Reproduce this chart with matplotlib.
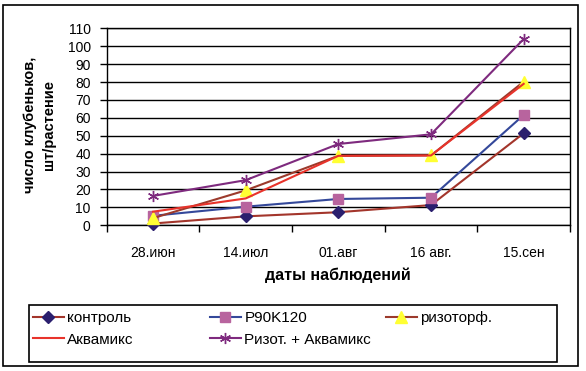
import matplotlib
matplotlib.use("Agg")
import matplotlib.pyplot as plt
from matplotlib.patches import Rectangle

plt.rcParams['font.family'] = ['Liberation Sans', 'DejaVu Sans']

categories = ["28.июн", "14.июл", "01.авг", "16 авг.", "15.сен"]
kontrol = [1, 5, 7.3, 11.3, 51.4]
p90k120 = [5.3, 10.4, 14.7, 15.4, 61.6]
rizotorf = [4, 19.5, 38.8, 39, 80.2]
akvamiks = [7.6, 15, 38.8, 39, 79]
rizot_akv = [16.4, 25.2, 45.4, 50.8, 104]
y_ticks = list(range(0, 111, 10))

W, H = 586, 371
fig = plt.figure(figsize=(W / 100, H / 100), dpi=100)

def fx(px):
    return px / W

def fy(py):
    return 1 - py / H

left, right, top, bottom = 106.7, 570, 28.3, 225.3
ax = fig.add_axes([fx(left), fy(bottom), fx(right) - fx(left), fy(top) - fy(bottom)])

x = list(range(len(categories)))
series = [
    ("контроль", kontrol, dict(color="#A3352B", marker="D", ms=6.5, mfc="#2B1F6E", mec="#2B1F6E")),
    ("P90K120", p90k120, dict(color="#34489A", marker="s", ms=7.5, mfc="#B8649E", mec="#B8649E")),
    ("ризоторф.", rizotorf, dict(color="#9C3A2C", marker="^", ms=8.5, mfc="#FFFF33", mec="#FFFF33")),
    ("Аквамикс", akvamiks, dict(color="#E8332B", marker=None)),
    ("Ризот. + Аквамикс", rizot_akv, dict(color="#7E2A7E", marker=(6, 2, 0), ms=8, mec="#7E2A7E", mew=1.0)),
]
handles = []
for i, (name, vals, st) in enumerate(series):
    ln, = ax.plot(x, vals, lw=1.5, label=name, zorder=3 + i, clip_on=False, **st)
    handles.append(ln)

ax.set_xlim(-0.5, len(categories) - 0.5)
ax.set_ylim(0, 110)
ax.set_yticks(y_ticks)
ax.set_yticklabels([str(v) for v in y_ticks], fontsize=10)
ax.set_xticks(x)
ax.set_xticklabels(categories, fontsize=10)
ax.tick_params(axis='x', length=0, pad=15)
ax.set_xticks([i - 0.5 for i in range(len(categories) + 1)], minor=True)
ax.tick_params(axis='x', which='minor', length=5, width=1, direction='out', color='black')
ax.tick_params(axis='y', length=5, width=1, direction='out', pad=6.5)
ax.yaxis.grid(True, color='black', lw=1)
ax.set_axisbelow(True)
for sp in ax.spines.values():
    sp.set_color('black')
    sp.set_linewidth(1)

fig.text(fx(337.5), fy(275.5), "даты наблюдений", fontsize=11.5, fontweight='bold', ha='center', va='center')
fig.text(fx(39.5), fy(125), "число клубеньков,\nшт/растение", fontsize=10.5, fontweight='bold',
         ha='center', va='center', rotation=90, linespacing=1.4)

# outer border
fig.patches.append(Rectangle((fx(3), fy(366)), fx(578) - fx(3), fy(5) - fy(366),
                             transform=fig.transFigure, fill=False, ec='black', lw=1.2))
# legend box
fig.patches.append(Rectangle((fx(29), fy(362)), fx(557) - fx(29), fy(305) - fy(362),
                             transform=fig.transFigure, fill=False, ec='black', lw=1.2))

cols = [(33, [0, 3]), (210, [1, 4]), (386, [2])]
for cx, idxs in cols:
    hs = [handles[i] for i in idxs]
    fig.legend(hs, [h.get_label() for h in hs], loc='upper left',
               bbox_to_anchor=(fx(cx), fy(311)), frameon=False, fontsize=11,
               handlelength=2.0, handletextpad=0.25, labelspacing=0.5,
               borderpad=0, borderaxespad=0)

fig.savefig("out.png", dpi=100)
